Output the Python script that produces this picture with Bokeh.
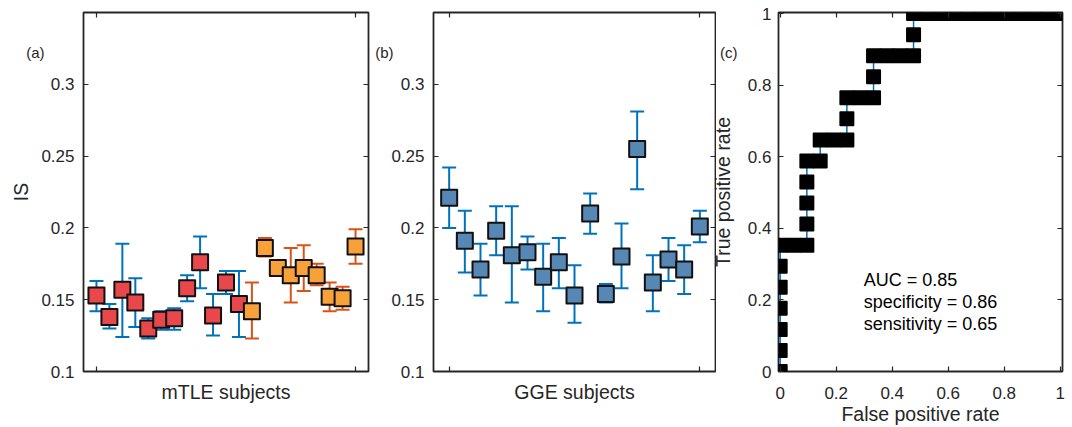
import json
from bokeh.plotting import figure
from bokeh.models import (Range1d, LinearAxis, FixedTicker, CustomJSTickFormatter,
                          Whisker, TeeHead, ColumnDataSource, Label)
from bokeh.layouts import row
from bokeh.embed import file_html
from bokeh.resources import INLINE

FONT = "Liberation Sans"
INK = "#262626"

# ---------------- data ----------------
# (a) mTLE subjects: first group (red squares, blue bars), second group (orange squares, orange bars)
mtle_red_x = [1, 2, 3, 4, 5, 6, 7, 8, 9, 10, 11, 12]
mtle_red_mean = [0.153, 0.138, 0.157, 0.148, 0.130, 0.136, 0.137, 0.158, 0.176, 0.139, 0.162, 0.147]
mtle_red_upper = [0.163, 0.147, 0.189, 0.165, 0.137, 0.142, 0.144, 0.167, 0.194, 0.154, 0.170, 0.170]
mtle_red_lower = [0.142, 0.130, 0.124, 0.131, 0.123, 0.129, 0.129, 0.149, 0.158, 0.125, 0.154, 0.124]

mtle_orange_x = [13, 14, 15, 16, 17, 18, 19, 20, 21]
mtle_orange_mean = [0.142, 0.186, 0.172, 0.167, 0.172, 0.167, 0.152, 0.151, 0.187]
mtle_orange_upper = [0.162, 0.193, 0.177, 0.186, 0.188, 0.175, 0.162, 0.159, 0.199]
mtle_orange_lower = [0.123, 0.180, 0.167, 0.148, 0.156, 0.160, 0.142, 0.143, 0.175]

# (b) GGE subjects
gge_x = list(range(1, 18))
gge_mean = [0.221, 0.191, 0.171, 0.198, 0.181, 0.183, 0.166, 0.176, 0.153, 0.210,
            0.154, 0.180, 0.255, 0.162, 0.178, 0.171, 0.201]
gge_upper = [0.242, 0.212, 0.189, 0.215, 0.215, 0.194, 0.189, 0.193, 0.174, 0.224,
             0.161, 0.203, 0.281, 0.181, 0.193, 0.188, 0.212]
gge_lower = [0.200, 0.169, 0.153, 0.181, 0.148, 0.171, 0.142, 0.158, 0.134, 0.196,
             0.148, 0.158, 0.227, 0.142, 0.163, 0.154, 0.190]

# (c) ROC curve: counts of false positives (of 21) and true positives (of 17)
n_negative = 21
n_positive = 17
roc_fp_count = [0, 0, 0, 0, 0, 0, 0, 1, 2, 2, 2, 2, 2, 3, 3, 4, 5, 5, 5, 6, 7, 7, 7,
                8, 9, 10, 10, 10, 11, 12, 13, 14, 15, 16, 17, 18, 19, 20, 21]
roc_tp_count = [0, 1, 2, 3, 4, 5, 6, 6, 6, 7, 8, 9, 10, 10, 11, 11, 11, 12, 13, 13, 13, 14, 15,
                15, 15, 15, 16, 17, 17, 17, 17, 17, 17, 17, 17, 17, 17, 17, 17]
roc_fpr = [c / n_negative for c in roc_fp_count]
roc_tpr = [c / n_positive for c in roc_tp_count]
roc_stats = ["AUC = 0.85", "specificity = 0.86", "sensitivity = 0.65"]

is_ticks = [0.1, 0.15, 0.2, 0.25, 0.3]
rate_ticks = [0, 0.2, 0.4, 0.6, 0.8, 1]
panel_tags = ["(a)", "(b)", "(c)"]

RED = "#E8474B"
ORANGE = "#F8A03A"
STEEL = "#5787B5"
BAR_BLUE = "#0072BD"
BAR_ORANGE = "#D95319"

H = 427
TOP = 12
BOTTOM = 56


def style_title(ax, text, standoff):
    ax.axis_label = text
    ax.axis_label_text_font = FONT
    ax.axis_label_text_font_size = "19.5px"
    ax.axis_label_text_font_style = "normal"
    ax.axis_label_text_color = INK
    ax.axis_label_standoff = standoff


def labelled_axis(ticks, standoff):
    ax = LinearAxis(ticker=FixedTicker(ticks=ticks),
                    formatter=CustomJSTickFormatter(code="return tick.toString();"))
    ax.major_tick_in = 5
    ax.major_tick_out = 0
    ax.minor_tick_in = 0
    ax.minor_tick_out = 0
    ax.major_tick_line_color = INK
    ax.major_tick_line_width = 1.2
    ax.axis_line_color = None
    ax.major_label_text_font = FONT
    ax.major_label_text_font_size = "17px"
    ax.major_label_text_color = INK
    ax.major_label_standoff = standoff
    return ax


def ticks_only_axis(ticks):
    ax = LinearAxis(ticker=FixedTicker(ticks=[], minor_ticks=ticks))
    ax.major_tick_in = 0
    ax.major_tick_out = 0
    ax.minor_tick_in = 5
    ax.minor_tick_out = 0
    ax.minor_tick_line_color = INK
    ax.minor_tick_line_width = 1.2
    ax.axis_line_color = None
    ax.major_label_standoff = 0
    return ax


def tag_axis(tag, y, standoff):
    ax = LinearAxis(ticker=FixedTicker(ticks=[y]),
                    formatter=CustomJSTickFormatter(code="return %s;" % json.dumps(tag)))
    ax.major_tick_in = 0
    ax.major_tick_out = 0
    ax.minor_tick_in = 0
    ax.minor_tick_out = 0
    ax.major_tick_line_color = None
    ax.axis_line_color = None
    ax.major_label_text_font = FONT
    ax.major_label_text_font_size = "15px"
    ax.major_label_text_color = INK
    ax.major_label_standoff = standoff
    return ax


def make_fig(width, left, right, xr, yr, **kw):
    p = figure(width=width, height=H, x_range=Range1d(*xr), y_range=Range1d(*yr),
               output_backend="svg", toolbar_location=None,
               x_axis_location=None, y_axis_location=None,
               min_border_left=left, min_border_right=right,
               min_border_top=TOP, min_border_bottom=BOTTOM,
               background_fill_color="white", **kw)
    p.xgrid.grid_line_color = None
    p.ygrid.grid_line_color = None
    p.outline_line_color = INK
    p.outline_line_width = 1.8
    return p


def add_errorbars(p, x, lower, upper, color):
    src = ColumnDataSource(dict(x=x, lower=lower, upper=upper))
    w = Whisker(source=src, base="x", lower="lower", upper="upper", dimension="height",
                line_color=color, line_width=2, level="underlay",
                upper_head=TeeHead(size=14, line_color=color, line_width=2),
                lower_head=TeeHead(size=14, line_color=color, line_width=2))
    p.add_layout(w)


def add_squares(p, x, y, color):
    p.scatter(x, y, marker="square", size=16, fill_color=color, line_color="#111111",
              line_width=2, line_join="round")


# ---------------- panel (a) ----------------
pa = make_fig(372, 83, 4, (0, 22), (0.1, 0.35), border_fill_color="white")
ax_b = ticks_only_axis([1, 21])
style_title(ax_b, "mTLE subjects", 9)
pa.add_layout(ax_b, "below")
pa.add_layout(labelled_axis(is_ticks, 9), "left")
ax_tag = tag_axis(panel_tags[0], 0.3221, -6)
style_title(ax_tag, "IS", -9)
pa.add_layout(ax_tag, "left")
pa.add_layout(ticks_only_axis([1, 21]), "above")
pa.add_layout(ticks_only_axis(is_ticks), "right")
add_errorbars(pa, mtle_red_x, mtle_red_lower, mtle_red_upper, BAR_BLUE)
add_errorbars(pa, mtle_orange_x, mtle_orange_lower, mtle_orange_upper, BAR_ORANGE)
add_squares(pa, mtle_red_x, mtle_red_mean, RED)
add_squares(pa, mtle_orange_x, mtle_orange_mean, ORANGE)

# ---------------- panel (b) ----------------
pb = make_fig(344, 58, 1, (0, 18), (0.1, 0.35), border_fill_color="white")
bx_b = ticks_only_axis([1, 17])
style_title(bx_b, "GGE subjects", 9)
pb.add_layout(bx_b, "below")
pb.add_layout(labelled_axis(is_ticks, 9), "left")
pb.add_layout(tag_axis(panel_tags[1], 0.3221, -5), "left")
pb.add_layout(ticks_only_axis([1, 17]), "above")
pb.add_layout(ticks_only_axis(is_ticks), "right")
add_errorbars(pb, gge_x, gge_lower, gge_upper, BAR_BLUE)
add_squares(pb, gge_x, gge_mean, STEEL)

# ---------------- panel (c) ----------------
# transparent border and a negative left margin let its left labels overlap panel (b)'s margin
pc = make_fig(384, 92, 8, (-0.006, 1.008), (0, 1.003), border_fill_color=None,
              margin=(0, 0, 0, -30))
cx_b = labelled_axis(rate_ticks, 15)
style_title(cx_b, "False positive rate", 1)
pc.add_layout(cx_b, "below")
pc.add_layout(labelled_axis(rate_ticks, 7), "left")
c_tag = tag_axis(panel_tags[2], 0.891, 7)
style_title(c_tag, "True positive rate", -17)
pc.add_layout(c_tag, "left")
pc.add_layout(ticks_only_axis(rate_ticks), "above")
pc.add_layout(ticks_only_axis(rate_ticks), "right")
pc.line(roc_fpr, roc_tpr, line_color=BAR_BLUE, line_width=1.5)
pc.scatter(roc_fpr, roc_tpr, marker="square", size=13, fill_color="black",
           line_color="black", line_width=2, line_join="round")
for txt, yy in zip(roc_stats, [0.2562, 0.1936, 0.1333]):
    pc.add_layout(Label(x=0.2985, y=yy, text=txt, text_font=FONT, text_font_size="18px",
                        text_align="left", text_baseline="middle", text_color="black"))

layout = row(pa, pb, pc)
open("out.html", "w").write(file_html(layout, INLINE))
